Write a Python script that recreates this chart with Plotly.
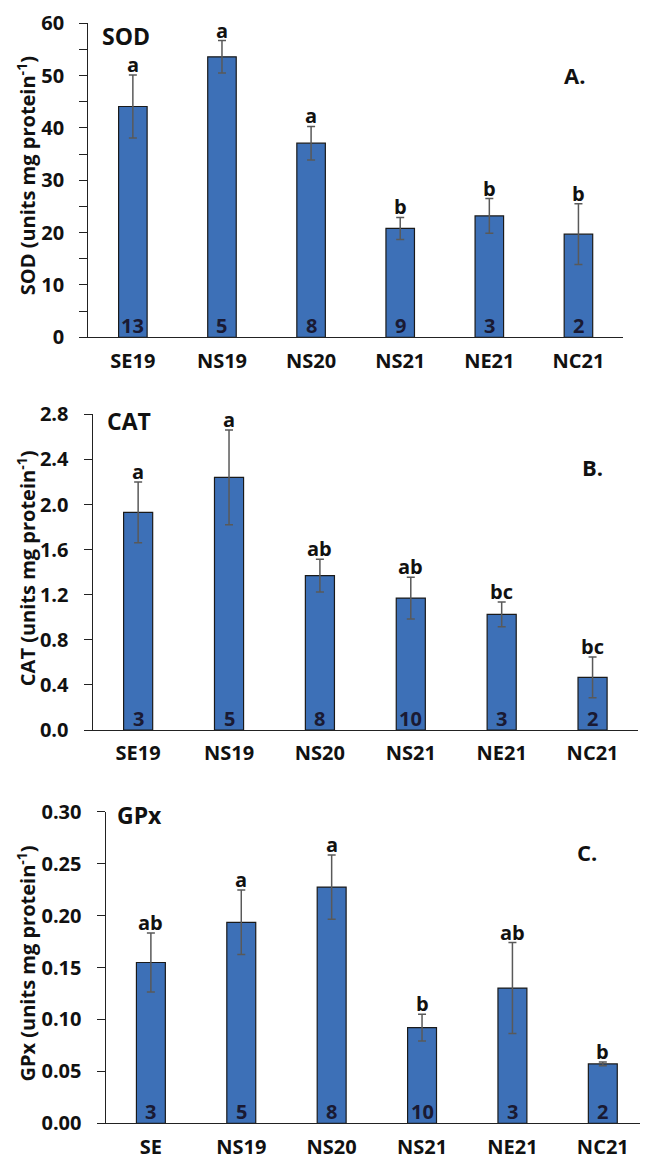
import plotly.graph_objects as go

# The page has an 8 px body margin, so the figure is drawn at (8, 8).
OFF = 8
W, H = 648 - OFF, 1159 - OFF

cats_a = ["SE19", "NS19", "NS20", "NS21", "NE21", "NC21"]
cats_b = ["SE19", "NS19", "NS20", "NS21", "NE21", "NC21"]
cats_c = ["SE", "NS19", "NS20", "NS21", "NE21", "NC21"]

sod_vals = [44.1, 53.6, 37.1, 20.8, 23.2, 19.7]
sod_err = [6.0, 3.1, 3.2, 2.1, 3.3, 5.8]
sod_letters = ["a", "a", "a", "b", "b", "b"]
sod_n = ["13", "5", "8", "9", "3", "2"]

cat_vals = [1.93, 2.24, 1.37, 1.17, 1.025, 0.467]
cat_err = [0.27, 0.42, 0.145, 0.185, 0.11, 0.18]
cat_letters = ["a", "a", "ab", "ab", "bc", "bc"]
cat_n = ["3", "5", "8", "10", "3", "2"]

gpx_vals = [0.1548, 0.1935, 0.2274, 0.0921, 0.1302, 0.0572]
gpx_err = [0.0285, 0.031, 0.031, 0.0128, 0.0438, 0.0017]
gpx_letters = ["ab", "a", "a", "b", "ab", "b"]
gpx_n = ["3", "5", "8", "10", "3", "2"]

FONT = "Open Sans"
BAR = "#3d70b7"
TXT = "#111111"


def fx(px):
    return (px - OFF) / W


def fy(px):
    return 1 - (px - OFF) / H


panels = [
    dict(cats=cats_a, vals=sod_vals, err=sod_err, letters=sod_letters, n=sod_n,
         xdom=(88.3, 623), ytop=23.3, ybot=337.3, yrange=(0, 60), dtick=10,
         minor=5, tickfmt="d", title="SOD (units mg protein<sup>-1</sup>)",
         name="SOD", name_pos=(100, 36), tag="A.", tag_pos=(574, 75)),
    dict(cats=cats_b, vals=cat_vals, err=cat_err, letters=cat_letters, n=cat_n,
         xdom=(92.7, 638), ytop=414.3, ybot=730, yrange=(0, 2.8), dtick=0.4,
         minor=None, tickfmt=".1f", title="CAT (units mg protein<sup>-1</sup>)",
         name="CAT", name_pos=(105, 421), tag="B.", tag_pos=(592, 467)),
    dict(cats=cats_c, vals=gpx_vals, err=gpx_err, letters=gpx_letters, n=gpx_n,
         xdom=(105.7, 648), ytop=811.7, ybot=1123.3, yrange=(0, 0.30), dtick=0.05,
         minor=None, tickfmt=".2f", title="GPx (units mg protein<sup>-1</sup>)",
         name="GPx", name_pos=(115, 815), tag="C.", tag_pos=(587, 852)),
]

fig = go.Figure()
annotations = []
layout = {}

for i, p in enumerate(panels, start=1):
    sx = "" if i == 1 else str(i)
    xref, yref = "x" + sx, "y" + sx
    fig.add_trace(go.Bar(
        x=p["cats"], y=p["vals"], width=0.32,
        marker=dict(color=BAR, line=dict(color="#1a1a1a", width=1.2)),
        error_y=dict(type="data", array=p["err"], color="#595959",
                     thickness=1.5, width=4),
        xaxis=xref, yaxis=yref, showlegend=False, hoverinfo="skip",
    ))
    layout["xaxis" + sx] = dict(
        domain=[fx(p["xdom"][0]), min(1.0, fx(p["xdom"][1]))], anchor=yref,
        type="category", showline=True, linecolor="#222222", linewidth=1.4,
        ticks="", showgrid=False, zeroline=False, ticklabelstandoff=5,
        automargin=False,
        tickfont=dict(family=FONT, size=20, color=TXT, weight="bold"),
        fixedrange=True,
    )
    yax = dict(
        domain=[fy(p["ybot"]), fy(p["ytop"])], anchor=xref,
        range=list(p["yrange"]), dtick=p["dtick"], tick0=0,
        tickformat=p["tickfmt"], showline=True, linecolor="#222222",
        linewidth=1.4, ticks="outside", ticklen=8, tickwidth=1.4,
        tickcolor="#222222", showgrid=False, zeroline=False,
        ticklabelstandoff=11, automargin=False,
        tickfont=dict(family=FONT, size=20, color=TXT, weight="bold"),
        fixedrange=True,
    )
    if p["minor"]:
        yax["minor"] = dict(dtick=p["minor"], ticks="outside", ticklen=8,
                            tickwidth=1.4, tickcolor="#222222", showgrid=False)
    layout["yaxis" + sx] = yax

    for c, v, e, l, n in zip(p["cats"], p["vals"], p["err"], p["letters"], p["n"]):
        annotations.append(dict(
            x=c, y=v + e, xref=xref, yref=yref, text=l, showarrow=False,
            yanchor="bottom", xanchor="center", yshift=-5,
            font=dict(family=FONT, size=20, color=TXT, weight="bold")))
        annotations.append(dict(
            x=c, y=0, xref=xref, yref=yref, text=n, showarrow=False,
            yanchor="bottom", xanchor="center", yshift=-4,
            font=dict(family=FONT, size=20, color="#1a1a33", weight="bold")))

    ycen = (p["ytop"] + p["ybot"]) / 2
    annotations.append(dict(
        x=fx(26), y=fy(ycen - 4), xref="paper", yref="paper", text=p["title"],
        textangle=-90, showarrow=False, xanchor="center", yanchor="middle",
        font=dict(family=FONT, size=20, color=TXT, weight="bold")))
    annotations.append(dict(
        x=fx(p["name_pos"][0]), y=fy(p["name_pos"][1]), xref="paper",
        yref="paper", text=p["name"], showarrow=False, xanchor="left",
        yanchor="middle",
        font=dict(family=FONT, size=23, color=TXT, weight="bold")))
    annotations.append(dict(
        x=fx(p["tag_pos"][0]), y=fy(p["tag_pos"][1]), xref="paper",
        yref="paper", text=p["tag"], showarrow=False, xanchor="center",
        yanchor="middle",
        font=dict(family=FONT, size=22, color=TXT, weight="bold")))

fig.update_layout(
    template="none",
    width=W, height=H, margin=dict(l=0, r=0, t=0, b=0, autoexpand=False),
    paper_bgcolor="white", plot_bgcolor="white",
    annotations=annotations, **layout,
)

fig.write_html("out.html")
